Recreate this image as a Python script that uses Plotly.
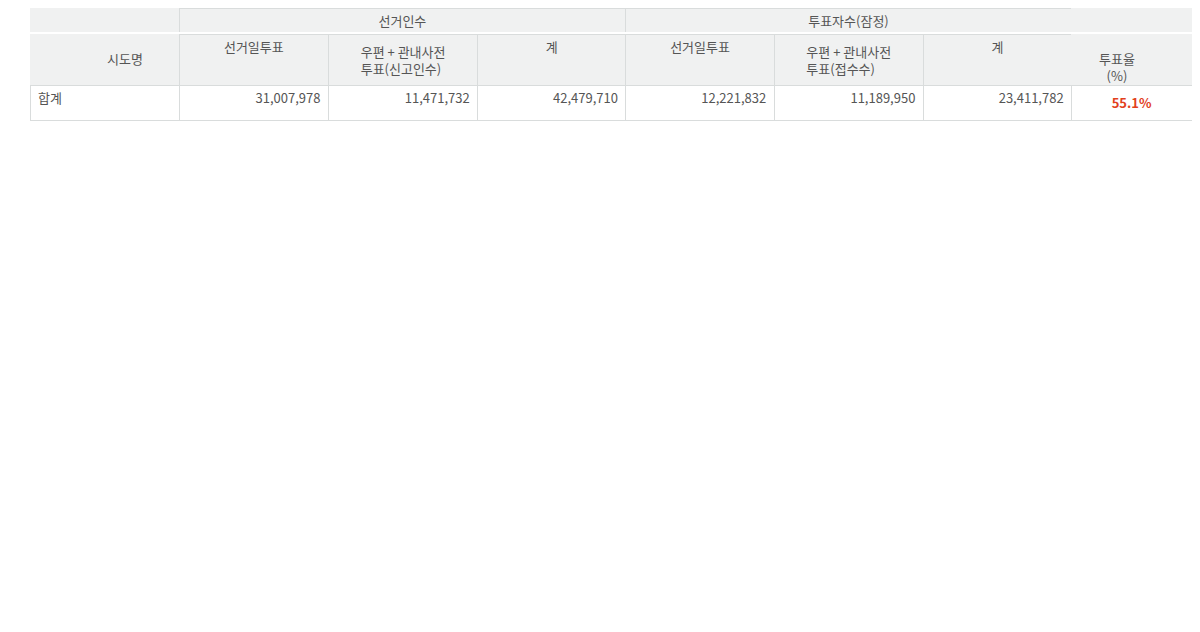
import plotly.graph_objects as go

regions = ["합계", "서울특별시", "부산광역시", "대구광역시", "인천광역시", "광주광역시", "대전광역시",
           "울산광역시", "세종특별자치시", "경기도", "강원도", "충청북도", "충청남도", "전라북도",
           "전라남도", "경상북도", "경상남도", "제주특별자치도"]
elec_day = [31007978, 6086598, 2239574, 1573980, 1802871, 766368, 875179, 683530, 122414,
            7609809, 950079, 963033, 1286707, 1030754, 1023843, 1617748, 1981475, 394016]
elec_early = [11471732, 2296401, 710650, 469296, 606160, 400533, 345423, 257563, 67007,
              2652500, 337094, 340655, 425205, 494872, 548995, 632236, 763158, 123984]
elec_total = [42479710, 8382999, 2950224, 2043276, 2409031, 1166901, 1220602, 941093, 189421,
              10262309, 1287173, 1303688, 1711912, 1525626, 1572838, 2249984, 2744633, 518000]
vote_day = [12221832, 2406350, 848015, 620037, 689380, 314526, 348923, 261464, 49415,
            3013829, 386014, 382122, 501632, 444729, 425691, 652211, 725065, 152429]
vote_early = [11189950, 2270004, 686010, 465877, 600997, 399298, 343808, 255220, 65726,
              2536881, 334463, 338994, 422972, 492569, 526435, 626961, 702949, 120786]
vote_total = [23411782, 4676354, 1534025, 1085914, 1290377, 713824, 692731, 516684, 115141,
              5550710, 720477, 721116, 924604, 937298, 952126, 1279172, 1428014, 273215]
turnout = [55.1, 55.8, 52.0, 53.1, 53.6, 61.2, 56.8, 54.9, 60.8, 54.1, 56.0, 55.3, 54.0,
           61.4, 60.5, 56.9, 52.0, 52.7]

# page has an 8px body margin, so work in page pixels and shift
OFF = 8
W, H = 1184, 624
x0, x1 = 30, 1198
HF = "#f0f1f1"
LN = "#d9dcdc"
TXT = "#555555"
FONT = "Noto Sans CJK KR"

def px_x(v):
    return (v - OFF) / W

def py(v):
    return 1 - max(v - OFF, 0) / H

fx = [px_x(x0), min(px_x(x1), 1)]
fmt = lambda v: f"{v:,}"
widths = [150, 150, 150, 149, 149, 150, 149, 121]
fig = go.Figure()

fig.add_trace(go.Table(
    domain=dict(x=fx, y=[py(33), py(0)]),
    columnwidth=[150, 448, 448, 121],
    header=dict(values=["", "선거인수", "투표자수(잠정)", ""], height=26,
                fill_color=HF, line_color=[HF, LN, LN, HF],
                font=dict(family=FONT, size=13, color=TXT), align="center"),
))
fig.add_trace(go.Table(
    domain=dict(x=fx, y=[py(85), py(26 + OFF)]),
    columnwidth=widths,
    header=dict(values=["", "선거일투표", "우편 + 관내사전<br>투표(신고인수)", "계",
                        "선거일투표", "우편 + 관내사전<br>투표(접수수)", "계", ""],
                height=51, fill_color=HF, line_color=[HF] + [LN] * 6 + [HF],
                font=dict(family=FONT, size=13, color=TXT), align="center"),
))
body = [regions, [fmt(v) for v in elec_day], [fmt(v) for v in elec_early],
        [fmt(v) for v in elec_total], [fmt(v) for v in vote_day],
        [fmt(v) for v in vote_early], [fmt(v) for v in vote_total],
        [f"<b>{t:.1f}%</b>" for t in turnout]]
fig.add_trace(go.Table(
    domain=dict(x=fx, y=[0, py(85)]),
    columnwidth=widths,
    header=dict(values=[c[0] for c in body], height=30, fill_color="white", line_color=LN,
                font=dict(family=FONT, size=13, color=[TXT] * 7 + ["#e2401c"]),
                align=["left"] + ["right"] * 6 + ["center"]),
    cells=dict(values=[c[1:] for c in body], height=30, fill_color="white", line_color=LN,
               font=dict(family=FONT, size=13, color=[TXT] * 7 + ["#e2401c"]),
               align=["left"] + ["right"] * 6 + ["center"]),
))

fig.add_annotation(x=px_x(105), y=py(47), xref="paper", yref="paper", text="시도명",
                   showarrow=False, font=dict(family=FONT, size=13, color=TXT))
fig.add_annotation(x=px_x(1137), y=py(47), xref="paper", yref="paper", text="투표율<br>(%)",
                   showarrow=False, font=dict(family=FONT, size=13, color=TXT))

fig.update_layout(width=W, height=H, margin=dict(l=0, r=0, t=0, b=0),
                  paper_bgcolor="white")
fig.write_html("out.html")
